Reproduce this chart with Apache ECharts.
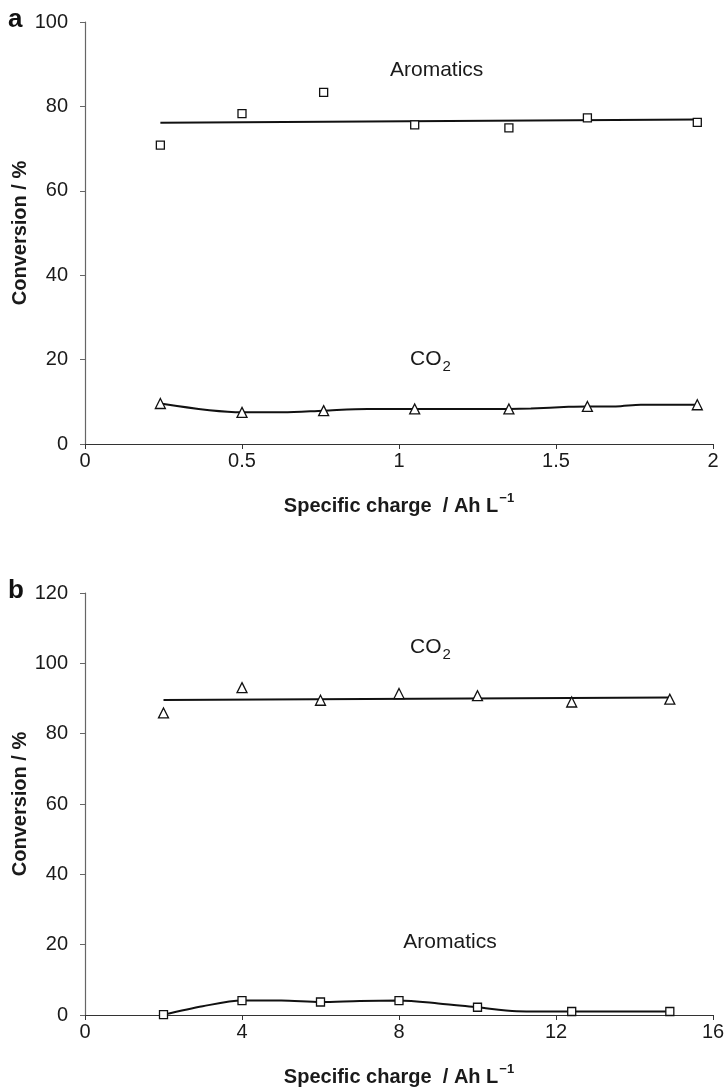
<!DOCTYPE html>
<html><head><meta charset="utf-8">
<script src="https://cdn.jsdelivr.net/npm/echarts@6/dist/echarts.min.js"></script>
<style>html,body{margin:0;padding:0;background:#fff}#c{width:726px;height:1089px}</style>
</head><body><div id="c"></div>
<script>
// ---- Panel a ----
const xA = [0.24, 0.5, 0.76, 1.05, 1.35, 1.6, 1.95];
const aromA = [70.8, 78.3, 83.3, 75.6, 74.9, 77.3, 76.2];
const co2A = [9.6, 7.5, 7.9, 8.3, 8.3, 8.9, 9.3];
const aromFitAx = [0.24, 1.95];
const aromFitAy = [76.1, 76.9];
const co2CurveAx = [0.24, 0.5, 0.63, 0.76, 0.9, 1.05, 1.35, 1.42, 1.54, 1.6, 1.69, 1.77, 1.95];
const co2CurveAy = [9.6, 7.5, 7.5, 7.9, 8.3, 8.3, 8.3, 8.4, 8.8, 8.9, 8.9, 9.3, 9.3];
const xTicksA = [0, 0.5, 1, 1.5, 2];
const yTicksA = [0, 20, 40, 60, 80, 100];
// ---- Panel b ----
const xB = [2, 4, 6, 8, 10, 12.4, 14.9];
const co2B = [85.9, 93.1, 89.5, 91.4, 90.8, 89.0, 89.8];
const aromB = [0.1, 4.1, 3.7, 4.1, 2.2, 1.0, 1.0];
const co2FitBx = [2, 14.9];
const co2FitBy = [89.6, 90.3];
const aromCurveBx = [2, 3, 4, 5, 6, 7, 8, 9, 10, 11, 12.4, 14.9];
const aromCurveBy = [0.1, 2.5, 4.1, 4.1, 3.7, 4.0, 4.1, 3.3, 2.2, 1.1, 1.0, 1.0];
const xTicksB = [0, 4, 8, 12, 16];
const yTicksB = [0, 20, 40, 60, 80, 100, 120];
// annotation labels [x, y, text]
const labelsA = [[1.12, 88, 'Aromatics'], [1.1, 19.5, 'CO2']];
const labelsB = [[8.8, 104, 'CO2'], [9.3, 20, 'Aromatics']];

const FONT = 'Liberation Sans, Arial, sans-serif';
const zip = (xs, ys) => xs.map((x, i) => [x, ys[i]]);

function xAxis(gi, ticks) {
  return {
    type: 'value', gridIndex: gi, min: ticks[0], max: ticks[ticks.length - 1],
    interval: ticks[1] - ticks[0],
    axisLine: {onZero: false, lineStyle: {color: '#333', width: 1}},
    axisTick: {show: true, length: 5, lineStyle: {color: '#333'}},
    splitLine: {show: false},
    axisLabel: {color: '#1a1a1a', fontSize: 20, fontFamily: FONT, margin: 7},
    name: '{t|Specific charge  / Ah L}{s|\u22121}',
    nameLocation: 'middle', nameGap: 48, nameMoveOverlap: false,
    nameTextStyle: {
      rich: {
        t: {fontSize: 20, fontWeight: 'bold', fontFamily: FONT, color: '#1a1a1a', lineHeight: 24, verticalAlign: 'bottom'},
        s: {fontSize: 13, fontWeight: 'bold', fontFamily: FONT, color: '#1a1a1a', lineHeight: 24, verticalAlign: 'top', padding: [0, 0, 10, 1]}
      }
    }
  };
}
function yAxis(gi, ticks) {
  return {
    type: 'value', gridIndex: gi, min: ticks[0], max: ticks[ticks.length - 1],
    interval: ticks[1] - ticks[0],
    axisLine: {show: true, onZero: false, lineStyle: {color: '#666', width: 1.2}},
    axisTick: {show: true, length: 5, lineStyle: {color: '#666'}},
    splitLine: {show: false},
    axisLabel: {color: '#1a1a1a', fontSize: 20, fontFamily: FONT, margin: 17},
    name: 'Conversion / %', nameLocation: 'middle', nameGap: 55, nameMoveOverlap: false,
    nameTextStyle: {fontSize: 20, fontWeight: 'bold', fontFamily: FONT, color: '#1a1a1a'}
  };
}
function markers(xi, xs, ys, sym, size) {
  return {type: 'scatter', xAxisIndex: xi, yAxisIndex: xi, data: zip(xs, ys), symbol: sym, symbolSize: size,
    itemStyle: {color: '#fff', borderColor: '#111', borderWidth: 1.3, opacity: 1}, z: 5};
}
function line(xi, xs, ys, smooth) {
  return {type: 'line', xAxisIndex: xi, yAxisIndex: xi, data: zip(xs, ys), showSymbol: false, smooth: smooth,
    lineStyle: {color: '#111', width: 2}, z: 3};
}
function labels(xi, arr) {
  return {type: 'scatter', xAxisIndex: xi, yAxisIndex: xi, symbolSize: 0,
    itemStyle: {opacity: 1},
    data: arr.map(a => ({value: [a[0], a[1]], name: a[2]})),
    label: {show: true, position: 'inside', color: '#1a1a1a', opacity: 1,
      formatter: p => p.name === 'CO2' ? '{n|CO}{sub|2}' : '{n|' + p.name + '}',
      rich: {
        n: {fontSize: 21, fontFamily: FONT, color: '#1a1a1a', lineHeight: 26, verticalAlign: 'top'},
        sub: {fontSize: 15, fontFamily: FONT, color: '#1a1a1a', lineHeight: 26, verticalAlign: 'bottom', padding: [12, 0, 0, 1]}
      }}, z: 6};
}

const chart = echarts.init(document.getElementById('c'), null, {renderer: 'canvas'});
chart.setOption({
  animation: false,
  backgroundColor: '#fff',
  grid: [
    {left: 85, top: 22, width: 628, height: 422, outerBoundsMode: 'none', containLabel: false},
    {left: 85, top: 593, width: 628, height: 422, outerBoundsMode: 'none', containLabel: false}
  ],
  xAxis: [xAxis(0, xTicksA), xAxis(1, xTicksB)],
  yAxis: [yAxis(0, yTicksA), yAxis(1, yTicksB)],
  graphic: [
    {type: 'text', left: 8, top: 7, style: {text: 'a', fontSize: 26, fontWeight: 'bold', fontFamily: FONT, fill: '#111'}},
    {type: 'text', left: 8, top: 578, style: {text: 'b', fontSize: 26, fontWeight: 'bold', fontFamily: FONT, fill: '#111'}}
  ],
  series: [
    line(0, aromFitAx, aromFitAy, false),
    line(0, co2CurveAx, co2CurveAy, 0.3),
    markers(0, xA, aromA, 'rect', 8),
    markers(0, xA, co2A, 'triangle', 10),
    labels(0, labelsA),
    line(1, co2FitBx, co2FitBy, false),
    line(1, aromCurveBx, aromCurveBy, 0.3),
    markers(1, xB, co2B, 'triangle', 10),
    markers(1, xB, aromB, 'rect', 8),
    labels(1, labelsB)
  ]
});
</script></body></html>
